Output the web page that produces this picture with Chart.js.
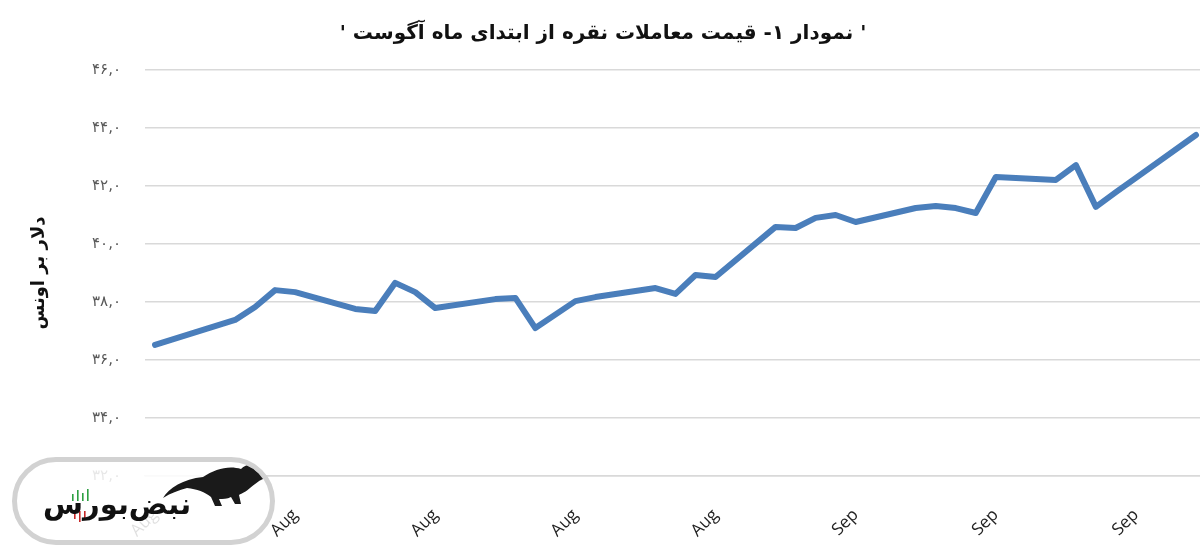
<!DOCTYPE html>
<html>
<head>
<meta charset="utf-8">
<script src="https://cdn.jsdelivr.net/npm/chart.js@4/dist/chart.umd.min.js"></script>
<style>
  html, body { margin:0; padding:0; background:#fff; overflow:hidden; width:1200px; height:556px; }
  #wrap { position:relative; width:1206px; height:556px; }
  #logo { position:absolute; left:12px; top:457px; width:253px; height:78px; border:5px solid #d2d2d2; border-radius:44px; background:rgba(255,255,255,0.86); overflow:hidden; }
  #logoText { position:absolute; left:26px; top:25px; font-family:"DejaVu Sans", sans-serif; font-weight:bold; font-size:29px; color:#111; direction:rtl; letter-spacing:-1px; }
  #bull { position:absolute; left:142px; top:0px; }
  #bars { position:absolute; left:52px; top:26px; }
</style>
</head>
<body>
<div id="wrap">
  <canvas id="c" width="1206" height="556" dir="rtl"></canvas>
  <div id="logo">
    <svg id="bull" width="112" height="52" viewBox="0 0 112 52">
      <path d="M4 36 C 10 26, 24 17, 44 15 C 56 7, 70 3, 82 7 C 86 3, 92 1, 94 5 C 96 9, 100 12, 104 10 C 109 10, 110 15, 104 17 C 99 19, 95 23, 91 26 C 87 30, 83 31, 80 33 L 82 42 L 76 42 L 72 35 C 68 37, 64 37, 60 37 L 63 44 L 56 44 L 52 35 C 46 30, 38 27, 28 26 C 20 28, 12 31, 4 36 Z" fill="#1a1a1a"/>
    </svg>
    <svg id="bars" width="30" height="34" viewBox="0 0 30 34">
      <rect x="3" y="6" width="1.6" height="7" fill="#2ea043"/>
      <rect x="8" y="2" width="1.6" height="11" fill="#2ea043"/>
      <rect x="13" y="5" width="1.6" height="8" fill="#2ea043"/>
      <rect x="18" y="1" width="1.6" height="12" fill="#2ea043"/>
      <rect x="5" y="23" width="1.6" height="8" fill="#c62828"/>
      <rect x="10" y="23" width="1.6" height="11" fill="#c62828"/>
      <rect x="15" y="23" width="1.6" height="7" fill="#c62828"/>
    </svg>
    <span id="logoText">نبض‌بورس</span>
  </div>
</div>
<script>
const dates = [
  "1-Aug","2-Aug","3-Aug","4-Aug","5-Aug","6-Aug","7-Aug","8-Aug","9-Aug","10-Aug",
  "11-Aug","12-Aug","13-Aug","14-Aug","15-Aug","16-Aug","17-Aug","18-Aug","19-Aug","20-Aug",
  "21-Aug","22-Aug","23-Aug","24-Aug","25-Aug","26-Aug","27-Aug","28-Aug","29-Aug","30-Aug",
  "31-Aug","1-Sep","2-Sep","3-Sep","4-Sep","5-Sep","6-Sep","7-Sep","8-Sep","9-Sep",
  "10-Sep","11-Sep","12-Sep","13-Sep","14-Sep","15-Sep","16-Sep","17-Sep","18-Sep","19-Sep",
  "20-Sep","21-Sep","22-Sep"
];
const silverPrice = [
  36.52, null, null, null, 37.38, 37.83, 38.41, 38.34, null, null,
  37.76, 37.69, 38.66, 38.34, 37.79, null, null, 38.10, 38.14, 37.10,
  null, 38.03, 38.17, null, null, 38.48, 38.28, 38.93, 38.86, null,
  null, 40.59, 40.55, 40.90, 41.00, 40.76, null, null, 41.24, 41.31,
  41.24, 41.07, 42.31, null, null, 42.21, 42.72, 41.28, 41.79, 42.28,
  null, null, 43.76
];
const xTickLabels = ["Aug","Aug","Aug","Aug","Aug","Sep","Sep","Sep"];
const yTickLabels = ["۳۲,۰","۳۴,۰","۳۶,۰","۳۸,۰","۴۰,۰","۴۲,۰","۴۴,۰","۴۶,۰"];
const titleText = "' نمودار ۱- قیمت معاملات نقره از ابتدای ماه آگوست '";
const yTitleText = "دلار بر اونس";

new Chart(document.getElementById('c'), {
  type: 'line',
  data: {
    labels: dates,
    datasets: [{
      data: silverPrice,
      borderColor: '#4a7ebb',
      borderWidth: 6,
      pointRadius: 0,
      tension: 0,
      spanGaps: true,
      borderJoinStyle: 'round',
      borderCapStyle: 'round',
      fill: false
    }]
  },
  options: {
    responsive: false,
    animation: false,
    devicePixelRatio: 1,
    layout: { padding: 0 },
    plugins: {
      legend: { display: false },
      tooltip: { enabled: false },
      title: {
        display: true,
        text: titleText,
        color: '#111',
        font: { family: '"DejaVu Sans", sans-serif', size: 20, weight: 'bold', lineHeight: 1.2 },
        padding: { top: 22, bottom: 24 }
      }
    },
    scales: {
      x: {
        type: 'category',
        offset: true,
        grid: { display: false },
        border: { display: true, color: '#d9d9d9', width: 1.5 },
        ticks: {
          autoSkip: false,
          maxRotation: 45,
          minRotation: 45,
          padding: 21,
          color: '#222',
          font: { family: '"Open Sans", sans-serif', size: 17 },
          callback: function(v, i) { return i % 7 === 0 ? xTickLabels[i / 7] : null; }
        },
        afterFit: function(s) { s.height = 80; }
      },
      y: {
        min: 32, max: 46,
        grid: { color: '#d9d9d9', lineWidth: 1.5, drawTicks: false },
        border: { display: false },
        ticks: {
          stepSize: 2,
          padding: 24,
          color: '#595959',
          font: { family: '"DejaVu Sans", sans-serif', size: 15 },
          callback: function(v, i) { return yTickLabels[i]; }
        },
        title: {
          display: true,
          text: yTitleText,
          color: '#111',
          font: { family: '"DejaVu Sans", sans-serif', size: 18, weight: 'bold', lineHeight: 1.2 },
          padding: { top: 29, bottom: 0 }
        },
        afterFit: function(s) { s.width = 145; }
      }
    }
  }
});
</script>
</body>
</html>
